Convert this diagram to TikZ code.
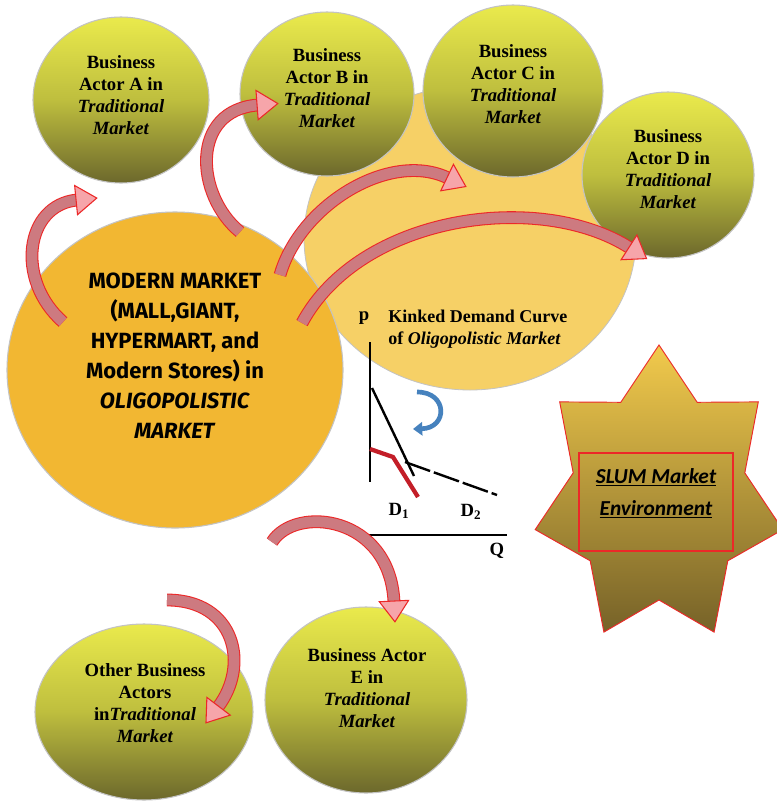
\documentclass[tikz,border=0pt]{standalone}
\usepackage{fontspec}
\setmainfont{Liberation Serif}
\newfontfamily\mmfont{Fira Sans}
\newfontfamily\slumfont{Carlito}
\usetikzlibrary{shapes.geometric,decorations.markings,arrows.meta}
\definecolor{actTop}{RGB}{234,234,76}
\definecolor{actMid}{RGB}{190,190,62}
\definecolor{actBot}{RGB}{108,104,44}
\definecolor{mmOrange}{RGB}{242,183,50}
\definecolor{lightYel}{RGB}{246,208,102}
\definecolor{arrBody}{RGB}{205,122,128}
\definecolor{arrHead}{RGB}{246,165,170}
\definecolor{arrRed}{RGB}{236,40,40}
\definecolor{starTop}{RGB}{242,202,76}
\definecolor{starBot}{RGB}{118,98,40}
\definecolor{edgeGrey}{RGB}{195,195,195}
\definecolor{blueArr}{RGB}{70,130,190}
\definecolor{kinkRed}{RGB}{195,30,40}
\tikzset{
  actor/.style={ellipse, draw=edgeGrey, line width=0.8pt, top color=actTop, bottom color=actBot, middle color=actMid, inner sep=0pt},
  acttext/.style={font=\fontsize{14}{16.5}\selectfont\bfseries, align=center, inner sep=0pt},
  mmtext/.style={font=\mmfont\bfseries\fontsize{16.5}{22.5}\selectfont, align=center, inner sep=0pt},
  kinktext/.style={font=\fontsize{13.5}{16.5}\selectfont\bfseries, align=left, inner sep=0pt},
  slumtext/.style={font=\slumfont\bfseries\itshape\fontsize{16}{24}\selectfont, align=center, inner sep=0pt},
  axislabel/.style={font=\fontsize{14}{16}\selectfont\bfseries, inner sep=0pt},
  barrow/.style={draw=arrBody, line width=8pt,
    preaction={draw=arrRed, line width=9.6pt},
    postaction={decorate, decoration={markings, mark=at position 0.999 with {\filldraw[fill=arrHead, draw=arrRed, line width=0.8pt] (-0.6pt,-11pt) -- (15pt,0pt) -- (-0.6pt,11pt) -- cycle;}}}},
}
\begin{document}
\begin{tikzpicture}[x=0.75pt,y=-0.75pt]
\useasboundingbox (0,0) rectangle (777,804);
\fill[white] (0,0) rectangle (777,804);
% background circles
\node[ellipse, fill=lightYel, draw=edgeGrey, line width=0.6pt, minimum width=249pt, minimum height=228pt, inner sep=0pt] (ly) at (470,238) {};
\node[ellipse, fill=mmOrange, draw=edgeGrey, line width=0.8pt, minimum width=252pt, minimum height=237pt, inner sep=0pt] (mm) at (175,370) {};
% actor circles
\node[actor, minimum width=132pt, minimum height=124.5pt] (A) at (121,100) {};
\node[actor, minimum width=130.5pt, minimum height=123pt] (B) at (327,94) {};
\node[actor, minimum width=135pt, minimum height=129pt] (C) at (513,91) {};
\node[actor, minimum width=129pt, minimum height=124.5pt] (D) at (668,175) {};
\node[actor, minimum width=151.5pt, minimum height=139.5pt] (E) at (366,700) {};
\node[actor, minimum width=163.5pt, minimum height=132pt] (O) at (144,712) {};
% star
\draw[draw=arrRed, line width=0.7pt, top color=starTop, bottom color=starBot]
  (659,345) -- (697.2,402.3) -- (758.3,401.9) -- (744.8,472.9) -- (782.8,529.6) -- (727.8,560.8) -- (714.1,632.1) -- (659,600) -- (603.9,632.1) -- (590.2,560.8) -- (535.2,529.6) -- (573.2,472.9) -- (559.7,401.9) -- (620.8,402.3) -- cycle;
\draw[arrRed, line width=1pt] (579,453) rectangle (733,551);
% graph
\coordinate (pTop) at (370,342);
\coordinate (pBot) at (370,482);
\coordinate (qL) at (368,535);
\coordinate (qR) at (507,535);
\coordinate (d1a) at (372,388);
\coordinate (d1b) at (414,476);
\coordinate (kink) at (405,462);
\coordinate (d2b) at (497,495);
\draw[black, line width=2.2pt] (pTop) -- (pBot);
\draw[black, line width=2.2pt] (qL) -- (qR);
\draw[black, line width=1.8pt] (d1a) -- (d1b);
\draw[black, line width=1.8pt, dash pattern=on 20pt off 3pt] (kink) -- (d2b);
\coordinate (r1) at (370,449);
\coordinate (r2) at (393,457);
\coordinate (r3) at (418,497);
\draw[kinkRed, line width=3.2pt] (r1) -- (r2) -- (r3);
\coordinate (bs) at (417,392);
\coordinate (be) at (413,429);
\draw[blueArr, line width=3.5pt, -{Triangle[length=7pt,width=10pt]}] (bs) .. controls (448,392) and (448,428) .. (be);
\node[axislabel] (pl) at (364,318) {p};
\node[axislabel] (ql) at (497,551) {Q};
\node[axislabel] (dl1) at (399,511) {D\textsubscript{1}};
\node[axislabel] (dl2) at (471,512) {D\textsubscript{2}};
% texts
\node[acttext] (tA) at (121,95) {Business\\Actor A in\\\textit{Traditional}\\\textit{Market}};
\node[acttext] (tB) at (327,88) {Business\\Actor B in\\\textit{Traditional}\\\textit{Market}};
\node[acttext] (tC) at (513,84) {Business\\Actor C in\\\textit{Traditional}\\\textit{Market}};
\node[acttext] (tD) at (668,169) {Business\\Actor D in\\\textit{Traditional}\\\textit{Market}};
\node[acttext] (tE) at (367,688) {Business Actor\\E in\\\textit{Traditional}\\\textit{Market}};
\node[acttext] (tO) at (145,703) {Other Business\\Actors\\in\textit{Traditional}\\\textit{Market}};
\node[mmtext] (tM) at (175,356) {MODERN MARKET\\(MALL,GIANT,\\HYPERMART, and\\Modern Stores) in\\\textit{OLIGOPOLISTIC}\\\textit{MARKET}};
\node[kinktext, anchor=west] (tK) at (388,329) {Kinked Demand Curve\\of \textit{Oligopolistic Market}};
\node[slumtext] (tS) at (656,493) {\underline{SLUM Market}\\\underline{Environment}};
% block arrows
\coordinate (a1s) at (63,322);  \coordinate (a1e) at (77,200);
\coordinate (a2s) at (240,232); \coordinate (a2e) at (258,105);
\coordinate (a3s) at (280,275); \coordinate (a3e) at (448,178);
\coordinate (a4s) at (302,323); \coordinate (a4e) at (630,248);
\coordinate (a5s) at (272,542); \coordinate (a5e) at (394,602);
\coordinate (a6s) at (167,600); \coordinate (a6e) at (218,707);
\path[barrow] (a1s) .. controls (15,280) and (25,205) .. (a1e);
\path[barrow] (a2s) .. controls (195,195) and (190,110) .. (a2e);
\path[barrow] (a3s) .. controls (300,205) and (390,150) .. (a3e);
\path[barrow] (a4s) .. controls (360,215) and (540,190) .. (a4e);
\path[barrow] (a5s) .. controls (295,505) and (390,515) .. (a5e);
\path[barrow] (a6s) .. controls (235,600) and (250,665) .. (a6e);
\end{tikzpicture}
\end{document}
